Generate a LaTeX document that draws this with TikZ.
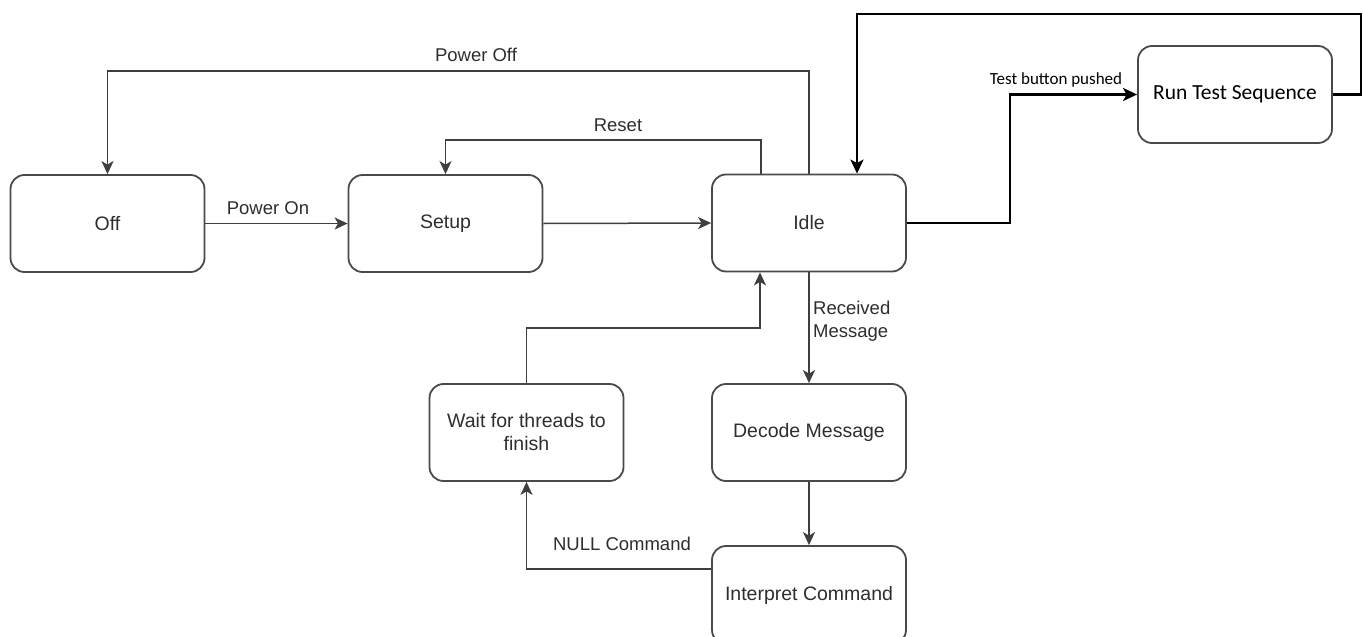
\documentclass[tikz,border=0pt]{standalone}
\usepackage{fontspec}
\setmainfont{Liberation Sans}
\newfontfamily\calibrilike{Carlito}
\usetikzlibrary{arrows.meta}
\definecolor{linegray}{HTML}{3F3F3F}
\definecolor{boxgray}{HTML}{4A4A4A}
\definecolor{textgray}{HTML}{2E2E2E}
\tikzset{
  state/.style={draw=boxgray, line width=1.8pt, rounded corners=14pt, fill=white,
    minimum width=194pt, minimum height=97pt, align=center, text=textgray,
    font=\fontsize{19.5}{23}\selectfont, inner sep=4pt},
  teststate/.style={state, text=black, font=\calibrilike\fontsize{21.5}{25}\selectfont},
  flow/.style={draw=linegray, line width=1.5pt,
    -{Stealth[length=13pt,width=12pt,inset=3.5pt]}},
  boldflow/.style={draw=black, line width=2.8pt,
    -{Stealth[length=14pt,width=13pt,inset=3.5pt]}},
  lbl/.style={text=textgray, font=\fontsize{18.5}{23}\selectfont, inner sep=0pt},
  testlbl/.style={text=black, font=\calibrilike\fontsize{17}{20}\selectfont, inner sep=0pt}
}
\begin{document}
\begin{tikzpicture}[x=1pt, y=-1pt]
  \useasboundingbox (0,0) rectangle (1363,637);
  \clip (0,0) rectangle (1363,637);
  \fill[white] (0,0) rectangle (1363,637);

  % states
  \node[state] (off)    at (107.5,223.5) {Off};
  \node[state] (setup)  at (445.5,223.5) {Setup};
  \node[state] (idle)   at (809,223)     {Idle};
  \node[teststate] (run) at (1235,94.5)  {Run Test Sequence};
  \node[state] (wait)   at (526.5,432.5) {Wait for threads to\\finish};
  \node[state] (decode) at (809,432.5)   {Decode Message};
  \node[state, minimum height=98pt] (interp) at (809,595) {Interpret Command};

  % transitions
  \draw[flow] (off.east) -- (setup.west);
  \node[lbl] (lpoweron) at (268,208) {Power On};

  \draw[flow] (setup.east) -- (idle.west);

  \draw[flow] (idle.north) -- (idle.north |- 0,71) -| (off.north);
  \node[lbl] (lpoweroff) at (476,55) {Power Off};

  \draw[flow] ([xshift=-48pt]idle.north) -- ([xshift=-48pt]idle.north |- 0,140) -| (setup.north);
  \node[lbl] (lreset) at (618,125) {Reset};

  \draw[flow] (idle.south) -- (decode.north);
  \node[lbl, anchor=west, align=left] (lrecv) at (813,321) {Received\\Message};

  \draw[flow] (decode.south) -- (interp.north);

  \draw[flow] (interp.west |- 0,569) -| (wait.south);
  \node[lbl] (lnull) at (622,544) {NULL Command};

  \draw[flow] (wait.north) -- (wait.north |- 0,328) -| ([xshift=-49pt]idle.south);

  % test sequence loop
  \coordinate (step1) at (1010,223);
  \draw[boldflow] (idle.east) -- (step1) |- (run.west);
  \node[testlbl] (ltest) at (1056,80) {Test button pushed};

  \coordinate (loopR) at (1361,14);
  \coordinate (loopL) at (857,14);
  \draw[boldflow] (run.east) -| (loopR) -- (loopL) -- ([xshift=48pt]idle.north);
\end{tikzpicture}
\end{document}
